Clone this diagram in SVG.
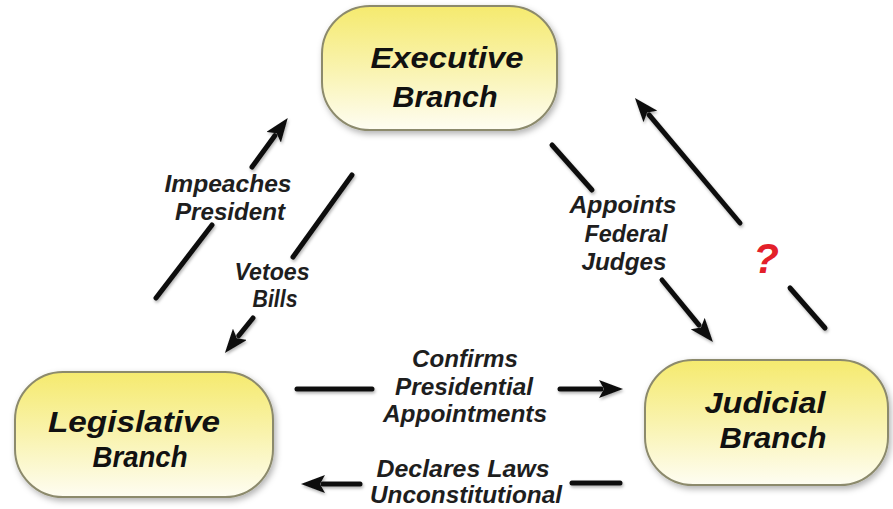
<svg xmlns="http://www.w3.org/2000/svg" width="893" height="509" viewBox="0 0 893 509">
  <defs>
    <linearGradient id="nodeFill" x1="0" y1="0" x2="0" y2="1">
      <stop offset="0" stop-color="#f5ea6e"/>
      <stop offset="0.5" stop-color="#f9f3ae"/>
      <stop offset="1" stop-color="#fefdf2"/>
    </linearGradient>
    <filter id="shadow" x="-10%" y="-10%" width="125%" height="135%">
      <feDropShadow dx="2" dy="3" stdDeviation="3" flood-color="#000" flood-opacity="0.3"/>
    </filter>
    <filter id="soft" filterUnits="userSpaceOnUse" x="0" y="0" width="893" height="509">
      <feDropShadow dx="1" dy="2" stdDeviation="1.5" flood-color="#000" flood-opacity="0.3"/>
    </filter>
    <marker id="arrow" viewBox="0 0 24 18" markerWidth="24" markerHeight="18" refX="2" refY="9" orient="auto" markerUnits="userSpaceOnUse">
      <path d="M0,0 L24,9 L0,18 L5,9 Z" fill="#111"/>
    </marker>
  </defs>
  <style>
    .box { fill: url(#nodeFill); stroke: #8c8a6c; stroke-width: 2; filter: url(#shadow); }
    .nt { font-family: "Liberation Sans", Arial, sans-serif; font-weight: bold; font-style: italic; font-size: 29px; fill: #111; text-anchor: middle; }
    .lt { font-family: "Liberation Sans", Arial, sans-serif; font-weight: bold; font-style: italic; font-size: 24px; fill: #1e1e1e; text-anchor: middle; }
    .q { font-family: "Liberation Sans", Arial, sans-serif; font-weight: bold; font-style: italic; font-size: 42px; fill: #e3202a; text-anchor: middle; }
    .c { stroke: #111; stroke-width: 5; stroke-linecap: round; fill: none; filter: url(#soft); }
    .a { marker-end: url(#arrow); }
  </style>
  <rect width="893" height="509" fill="#ffffff"/>

  <g id="executive">
    <rect class="box" x="322" y="6" width="235" height="124" rx="48" ry="48"/>
    <text class="nt" x="447" y="68" textLength="153" lengthAdjust="spacingAndGlyphs">Executive</text>
    <text class="nt" x="445" y="107" textLength="105" lengthAdjust="spacingAndGlyphs">Branch</text>
  </g>

  <g id="legislative">
    <rect class="box" x="15" y="372" width="258" height="125" rx="48" ry="48"/>
    <text class="nt" x="134" y="432" textLength="172" lengthAdjust="spacingAndGlyphs">Legislative</text>
    <text class="nt" x="140" y="467" textLength="95" lengthAdjust="spacingAndGlyphs">Branch</text>
  </g>

  <g id="judicial">
    <rect class="box" x="645" y="360" width="243" height="125" rx="48" ry="48"/>
    <text class="nt" x="765" y="413" textLength="121" lengthAdjust="spacingAndGlyphs">Judicial</text>
    <text class="nt" x="773" y="448" textLength="107" lengthAdjust="spacingAndGlyphs">Branch</text>
  </g>

  <g id="connectors">
    <!-- Impeaches President: Legislative -> Executive -->
    <line class="c" x1="156" y1="298" x2="212" y2="225"/>
    <line class="c a" x1="252" y1="167" x2="274.8" y2="135.7"/>
    <!-- Vetoes Bills: Executive -> Legislative -->
    <line class="c" x1="352" y1="175" x2="293" y2="257"/>
    <line class="c a" x1="253" y1="318" x2="238.7" y2="335.8"/>
    <!-- Appoints Federal Judges: Executive -> Judicial -->
    <line class="c" x1="552" y1="145" x2="592" y2="190"/>
    <line class="c a" x1="662" y1="280" x2="699.0" y2="325.1"/>
    <!-- ?: Judicial -> Executive -->
    <line class="c" x1="825" y1="328" x2="790" y2="288"/>
    <line class="c a" x1="740" y1="223" x2="649.1" y2="114.9"/>
    <!-- Confirms Presidential Appointments: Legislative -> Judicial -->
    <line class="c" x1="297" y1="389" x2="372" y2="389"/>
    <line class="c a" x1="560" y1="389" x2="601" y2="389"/>
    <!-- Declares Laws Unconstitutional: Judicial -> Legislative -->
    <line class="c" x1="620" y1="483" x2="572" y2="483"/>
    <line class="c a" x1="360" y1="484" x2="323" y2="484"/>
  </g>

  <g id="labels">
    <text class="lt" x="228" y="192" textLength="127" lengthAdjust="spacingAndGlyphs">Impeaches</text>
    <text class="lt" x="230" y="220" textLength="110" lengthAdjust="spacingAndGlyphs">President</text>
    <text class="lt" x="272" y="280" textLength="75" lengthAdjust="spacingAndGlyphs">Vetoes</text>
    <text class="lt" x="275" y="307" textLength="45" lengthAdjust="spacingAndGlyphs">Bills</text>
    <text class="lt" x="623" y="213" textLength="107" lengthAdjust="spacingAndGlyphs">Appoints</text>
    <text class="lt" x="626" y="242" textLength="83" lengthAdjust="spacingAndGlyphs">Federal</text>
    <text class="lt" x="624" y="270" textLength="85" lengthAdjust="spacingAndGlyphs">Judges</text>
    <text class="q" x="766" y="273">?</text>
    <text class="lt" x="465" y="367" textLength="106" lengthAdjust="spacingAndGlyphs">Confirms</text>
    <text class="lt" x="464" y="395" textLength="138" lengthAdjust="spacingAndGlyphs">Presidential</text>
    <text class="lt" x="465" y="422" textLength="164" lengthAdjust="spacingAndGlyphs">Appointments</text>
    <text class="lt" x="463" y="477" textLength="173" lengthAdjust="spacingAndGlyphs">Declares Laws</text>
    <text class="lt" x="466" y="503" textLength="192" lengthAdjust="spacingAndGlyphs">Unconstitutional</text>
  </g>
</svg>
